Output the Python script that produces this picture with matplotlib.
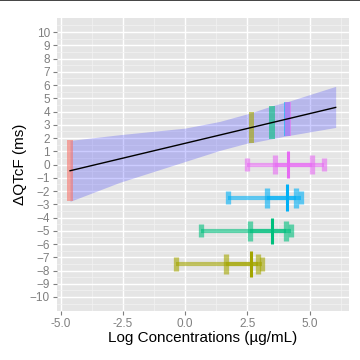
import numpy as np
import matplotlib
matplotlib.use('Agg')
import matplotlib.pyplot as plt
from matplotlib.lines import Line2D

plt.rcParams['font.family'] = ['Liberation Sans', 'DejaVu Sans']

# exposure-response line and its confidence ribbon
line_x = [-4.63, 6.05]
line_y = [-0.47, 4.31]
rib_x = [-4.63, -2.64, 0.0, 1.38, 2.5, 2.67, 3.5, 4.1, 6.05]
rib_hi = [1.82, 2.25, 2.75, 3.25, 3.83, 3.92, 4.44, 4.74, 5.9]
rib_lo = [-2.78, -1.35, 0.23, 1.06, 1.62, 1.65, 1.95, 2.17, 2.8]

# CI at median concentration of each group
grp_colors = ['#F8766D', '#A3A500', '#00BF7D', '#00B0F6', '#E76BF3']
grp_median = [-4.63, 2.66, 3.49, 4.09, 4.14]
grp_ci_lo = [-2.78, 1.65, 1.95, 2.17, 2.17]
grp_ci_hi = [1.82, 3.98, 4.44, 4.74, 4.74]

# concentration distributions (rows below the ribbon)
row_y = [-7.5, -5.0, -2.5, 0.0]
row_colors = ['#A3A500', '#00BF7D', '#00B0F6', '#E76BF3']
p05 = [-0.38, 0.62, 1.71, 2.49]
p25 = [1.63, 2.59, 3.29, 3.60]
p50 = [2.64, 3.48, 4.09, 4.13]
p75 = [2.92, 4.04, 4.46, 5.10]
p95 = [3.10, 4.25, 4.65, 5.59]

fig = plt.figure(figsize=(3.6, 3.6), dpi=100)
ax = fig.add_axes([0.158, 0.136, 0.811, 0.814])
ax.set_facecolor('#E5E5E5')

ax.set_xlim(-5.16, 6.58)
ax.set_ylim(-11.06, 11.06)
ax.set_xticks([-5, -2.5, 0, 2.5, 5])
ax.set_xticklabels(['-5.0', '-2.5', '0.0', '2.5', '5.0'])
ax.set_xticks([-3.75, -1.25, 1.25, 3.75, 6.25], minor=True)
ax.set_yticks(np.arange(-10, 11, 1))
ax.set_yticks(np.arange(-10.5, 11, 1), minor=True)
ax.grid(which='major', color='white', linewidth=1.0)
ax.grid(which='minor', color='#F2F2F2', linewidth=0.5)
ax.set_axisbelow(True)
for s in ax.spines.values():
    s.set_visible(False)
ax.tick_params(which='major', length=3, width=0.8, color='#7F7F7F',
               labelsize=8.5, labelcolor='#7F7F7F', pad=2)
ax.tick_params(which='minor', length=0)

ax.fill_between(rib_x, rib_lo, rib_hi, color='blue', alpha=0.2, linewidth=0)
ax.plot(line_x, line_y, color='black', linewidth=1.0)

bw = 0.22
for xm, lo, hi, c in zip(grp_median, grp_ci_lo, grp_ci_hi, grp_colors):
    ax.fill_between([xm - bw / 2, xm + bw / 2], lo, hi, color=c, alpha=0.6,
                    linewidth=0)

lw = 3.0
for i, y in enumerate(row_y):
    c = row_colors[i]
    # outer range
    ax.plot([p05[i], p95[i]], [y, y], color=c, alpha=0.6, linewidth=lw,
            solid_capstyle='butt')
    ax.plot([p05[i], p05[i]], [y - 0.5, y + 0.5], color=c, alpha=0.6,
            linewidth=3.8, solid_capstyle='butt')
    ax.plot([p95[i], p95[i]], [y - 0.5, y + 0.5], color=c, alpha=0.6,
            linewidth=3.8, solid_capstyle='butt')
    # inner range
    ax.plot([p25[i], p75[i]], [y, y], color=c, alpha=0.6, linewidth=lw,
            solid_capstyle='butt')
    ax.plot([p25[i], p25[i]], [y - 0.75, y + 0.75], color=c, alpha=0.6,
            linewidth=3.8, solid_capstyle='butt')
    ax.plot([p75[i], p75[i]], [y - 0.75, y + 0.75], color=c, alpha=0.6,
            linewidth=3.8, solid_capstyle='butt')
    # median
    ax.plot([p50[i], p50[i]], [y - 1.0, y + 1.0], color=c, linewidth=2.2,
            solid_capstyle='butt')

ax.set_xlabel('Log Concentrations (\u00b5g/mL)', fontsize=11, labelpad=1)
ax.set_ylabel('\u0394QTcF (ms)', fontsize=11, labelpad=2)

fig.add_artist(Line2D([0, 1], [0.999, 0.999], color='#222222', linewidth=1.2,
                      transform=fig.transFigure))

fig.savefig('out.png', dpi=100)
